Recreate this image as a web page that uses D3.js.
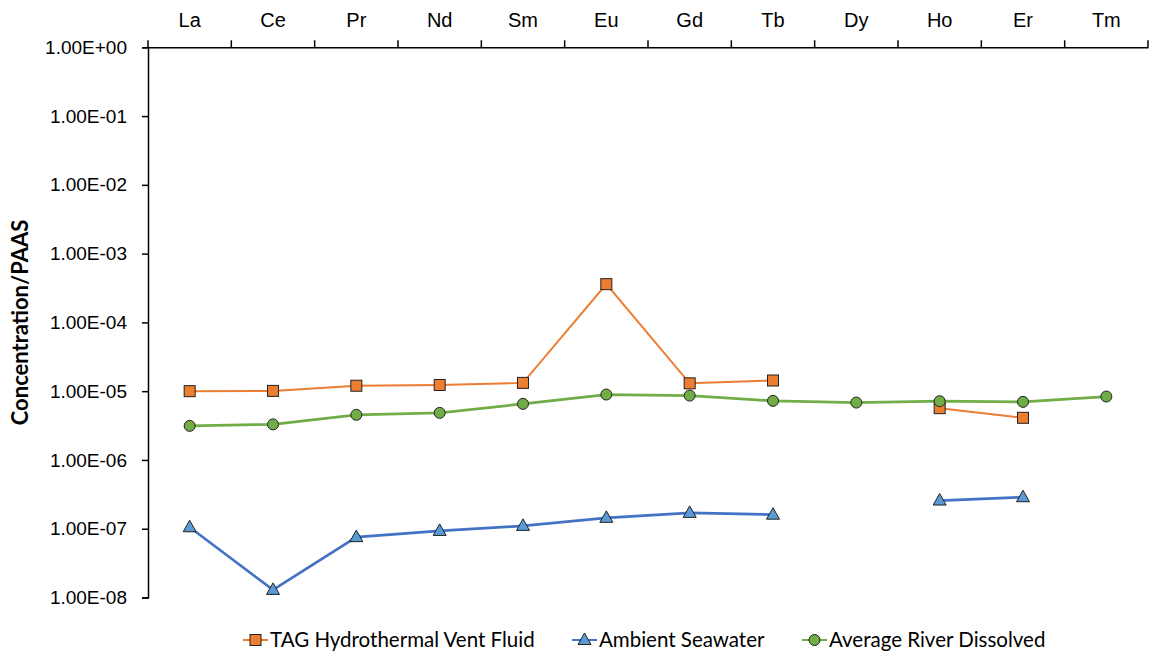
<!DOCTYPE html>
<html>
<head>
<meta charset="utf-8">
<script src="https://cdn.jsdelivr.net/npm/d3@7"></script>
<style>
  body { margin: 0; background: #fff; }
  svg { font-family: Lato, "Open Sans", sans-serif; }
</style>
</head>
<body>
<div id="chart"></div>
<script>
// REE patterns normalised to PAAS
const elements = ['La', 'Ce', 'Pr', 'Nd', 'Sm', 'Eu', 'Gd', 'Tb', 'Dy', 'Ho', 'Er', 'Tm'];
const tagVent = [1.0e-5, 1.01e-5, 1.2e-5, 1.23e-5, 1.32e-5, 3.6e-4, 1.3e-5, 1.43e-5, null, 5.66e-6, 4.1e-6, null];
const seawater = [1.05e-7, 1.29e-8, 7.55e-8, 9.3e-8, 1.1e-7, 1.44e-7, 1.7e-7, 1.6e-7, null, 2.57e-7, 2.87e-7, null];
const river = [3.13e-6, 3.29e-6, 4.53e-6, 4.84e-6, 6.54e-6, 8.93e-6, 8.63e-6, 7.23e-6, 6.83e-6, 7.15e-6, 6.99e-6, 8.36e-6];
const yTicks = [1e0, 1e-1, 1e-2, 1e-3, 1e-4, 1e-5, 1e-6, 1e-7, 1e-8];

const series = [
    { name: 'TAG Hydrothermal Vent Fluid', values: tagVent, line: '#ED7D31', fill: '#ED7D31', shape: 'square', width: 2 },
    { name: 'Ambient Seawater', values: seawater, line: '#4472C4', fill: '#5B9BD5', shape: 'triangle', width: 2.75 },
    { name: 'Average River Dissolved', values: river, line: '#70AD47', fill: '#70AD47', shape: 'circle', width: 2.75 }
];

const W = 1150, H = 655;
const svg = d3.select('#chart').append('svg')
    .attr('width', W)
    .attr('height', H);

const x = d3.scaleBand().domain(elements).range([148, 1148]);
const y = d3.scaleLog().domain([1e-8, 1]).range([597.5, 47.3]);

const fmt = d => {
    const e = Math.round(Math.log10(d));
    return '1.00E' + (e < 0 ? '-' : '+') + String(Math.abs(e)).padStart(2, '0');
};

// Left axis
const yAxis = svg.append('g')
    .attr('transform', `translate(${x.range()[0]},0)`)
    .call(d3.axisLeft(y).tickValues(yTicks).tickFormat(fmt).tickSize(6).tickPadding(15));
yAxis.select('.domain').attr('stroke', '#000').attr('stroke-width', 1.5);
yAxis.selectAll('.tick line').attr('stroke', '#000').attr('stroke-width', 1.5);
yAxis.selectAll('text').style('font-size', '19px').style('fill', '#000');

// Top axis: labels centred on categories, ticks between them
const xAxis = svg.append('g')
    .attr('transform', `translate(0,${y(1)})`)
    .call(d3.axisTop(x).tickSize(0).tickPadding(20).tickSizeOuter(0));
xAxis.select('.domain').attr('stroke', '#000').attr('stroke-width', 1.5);
xAxis.selectAll('text').style('font-size', '20px').style('fill', '#000');

const bounds = elements.map(d => x(d)).concat([x.range()[1]]);
xAxis.selectAll('.between')
    .data(bounds)
    .enter()
    .append('line')
    .attr('class', 'between')
    .attr('x1', d => d).attr('x2', d => d)
    .attr('y1', 0).attr('y2', -7)
    .attr('stroke', '#000')
    .attr('stroke-width', 1.5);

// Y axis title
svg.append('text')
    .attr('transform', `translate(28,${(y(1) + y(1e-8)) / 2}) rotate(-90)`)
    .attr('text-anchor', 'middle')
    .style('font-size', '22px')
    .style('font-weight', 'bold')
    .text('Concentration/PAAS');

const cx = i => x(elements[i]) + x.bandwidth() / 2;

function drawMarker(g, shape, fill) {
    if (shape === 'square') {
        g.append('rect').attr('x', -5.5).attr('y', -5.5).attr('width', 11).attr('height', 11)
            .attr('fill', fill).attr('stroke', '#222').attr('stroke-width', 1);
    } else if (shape === 'triangle') {
        g.append('path').attr('d', 'M0,-7L6.5,4.5L-6.5,4.5Z')
            .attr('fill', fill).attr('stroke', '#222').attr('stroke-width', 1);
    } else {
        g.append('circle').attr('r', 5.5)
            .attr('fill', fill).attr('stroke', '#222').attr('stroke-width', 1);
    }
}

const line = d3.line()
    .defined(d => d.v != null)
    .x(d => cx(d.i))
    .y(d => y(d.v));

series.forEach(s => {
    const pts = s.values.map((v, i) => ({ i, v }));
    const g = svg.append('g');
    g.append('path')
        .datum(pts)
        .attr('d', line)
        .attr('fill', 'none')
        .attr('stroke', s.line)
        .attr('stroke-width', s.width);
    pts.filter(d => d.v != null).forEach(d => {
        const m = g.append('g').attr('transform', `translate(${cx(d.i)},${y(d.v)})`);
        drawMarker(m, s.shape, s.fill);
    });
});

// Legend
const legendX = [243, 572, 802];
const legend = svg.append('g').attr('transform', 'translate(0,640)');
series.forEach((s, k) => {
    const item = legend.append('g').attr('transform', `translate(${legendX[k]},0)`);
    item.append('line').attr('x1', 0).attr('x2', 25).attr('y1', 0).attr('y2', 0)
        .attr('stroke', s.line).attr('stroke-width', 2);
    const m = item.append('g').attr('transform', 'translate(12.5,0)');
    drawMarker(m, s.shape, s.fill);
    item.append('text')
        .attr('x', 27)
        .attr('dy', '0.35em')
        .style('font-size', '20.5px')
        .text(s.name);
});
</script>
</body>
</html>
